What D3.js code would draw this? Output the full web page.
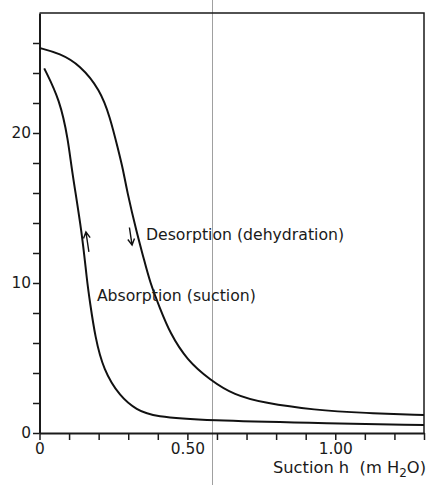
<!DOCTYPE html>
<html><head><meta charset="utf-8">
<script src="https://cdn.jsdelivr.net/npm/d3@7"></script>
<style>
html,body{margin:0;padding:0;background:#fff;}
svg{display:block;}
text{font-family:"DejaVu Sans",Verdana,sans-serif;fill:#1a1a1a;}
</style></head>
<body>
<script>
// Data (suction h in m H2O, water content)
const desorptionH = [0, 0.069, 0.137, 0.205, 0.238, 0.266, 0.283, 0.295, 0.329, 0.351, 0.374, 0.407, 0.441, 0.498, 0.577, 0.658, 0.759, 0.928, 1.10, 1.30];
const desorptionW = [25.67, 25.31, 24.53, 22.87, 21.09, 18.9, 17.53, 16.2, 13.33, 11.75, 10.0, 8.33, 6.67, 4.87, 3.53, 2.53, 2.0, 1.53, 1.33, 1.2];
const absorptionH = [0.016, 0.069, 0.097, 0.109, 0.144, 0.160, 0.171, 0.188, 0.216, 0.272, 0.329, 0.385, 0.576, 0.90, 1.30];
const absorptionW = [24.31, 22.2, 19.53, 17.53, 13.33, 10.2, 8.67, 6.42, 4.2, 2.42, 1.53, 1.09, 0.83, 0.68, 0.53];
const yTickValues = [0,2,4,6,8,10,12,14,16,18,20,22,24,26];
const yTickLabels = {0:"0",10:"10",20:"20"};
const xTickValues = [0,0.1,0.2,0.3,0.4,0.5,0.6,0.7,0.8,0.9,1.0,1.1,1.2,1.3];
const xTickLabels = {0:"0",0.5:"0.50",1:"1.00"};
const labels = [
  {text:"Desorption (dehydration)", h:0.360, w:12.85},
  {text:"Absorption (suction)", h:0.194, w:8.77}
];
const arrows = [
  {h1:0.167, w1:12.07, h2:0.157, w2:13.4},
  {h1:0.304, w1:13.7, h2:0.313, w2:12.53}
];

const W = 429, H = 485;
const m = {left:39.5, right:5, top:13, bottom:52};
const svg = d3.select("body").append("svg").attr("width",W).attr("height",H);

const x = d3.scaleLinear().domain([0,1.3]).range([m.left, W-m.right]);
const y = d3.scaleLinear().domain([0,28]).range([H-m.bottom, m.top]);

// scan fold line
svg.append("line").attr("x1",212.5).attr("x2",212.5).attr("y1",0).attr("y2",H)
  .attr("stroke","#a0a0a0").attr("stroke-width",1);

// frame top/right
svg.append("path")
  .attr("d",`M${x(0)},${y(28)}H${x(1.3)}V${y(0)}`)
  .attr("fill","none").attr("stroke","#1a1a1a").attr("stroke-width",1.5);

const yAxis = svg.append("g").attr("transform",`translate(${x(0)},0)`)
  .call(d3.axisLeft(y).tickValues(yTickValues).tickSize(6.5).tickSizeOuter(0).tickPadding(2)
    .tickFormat(d=>yTickLabels[d]||""));
const xAxis = svg.append("g").attr("transform",`translate(0,${y(0)})`)
  .call(d3.axisBottom(x).tickValues(xTickValues).tickSize(7).tickSizeOuter(0).tickPadding(3)
    .tickFormat(d=>{const k=Math.round(d*10)/10; return xTickLabels[k]||"";}));
[yAxis,xAxis].forEach(g=>{
  g.select(".domain").attr("stroke","#1a1a1a").attr("stroke-width",2);
  g.selectAll(".tick line").attr("stroke","#1a1a1a").attr("stroke-width",1.5);
  g.selectAll("text").attr("font-size",15.4).attr("fill","#1a1a1a")
    .style("font-family",'"DejaVu Sans",Verdana,sans-serif');
});

const line = d3.line().x(d=>x(d[0])).y(d=>y(d[1])).curve(d3.curveBasis);
const des = desorptionH.map((h,i)=>[h,desorptionW[i]]);
const abs = absorptionH.map((h,i)=>[h,absorptionW[i]]);
[des,abs].forEach(d=>svg.append("path").attr("d",line(d)).attr("fill","none")
  .attr("stroke","#111").attr("stroke-width",2));

// arrows
arrows.forEach(a=>{
  const x1=x(a.h1), y1=y(a.w1), x2=x(a.h2), y2=y(a.w2);
  const ang=Math.atan2(y2-y1,x2-x1), L=7, s=0.5;
  svg.append("path")
    .attr("d",`M${x1},${y1}L${x2},${y2}M${x2-L*Math.cos(ang-s)},${y2-L*Math.sin(ang-s)}L${x2},${y2}L${x2-L*Math.cos(ang+s)},${y2-L*Math.sin(ang+s)}`)
    .attr("fill","none").attr("stroke","#111").attr("stroke-width",1.4);
});

labels.forEach(l=>svg.append("text").attr("x",x(l.h)).attr("y",y(l.w))
  .attr("font-size",15.7).text(l.text));

// axis title
const t = svg.append("text").attr("x",426).attr("y",473).attr("text-anchor","end")
  .attr("font-size",16.3).style("white-space","pre");
t.append("tspan").text("Suction h  (m H");
t.append("tspan").attr("font-size",12).attr("dy",4).text("2");
t.append("tspan").attr("dy",-4).text("O)");
</script>
</body></html>
